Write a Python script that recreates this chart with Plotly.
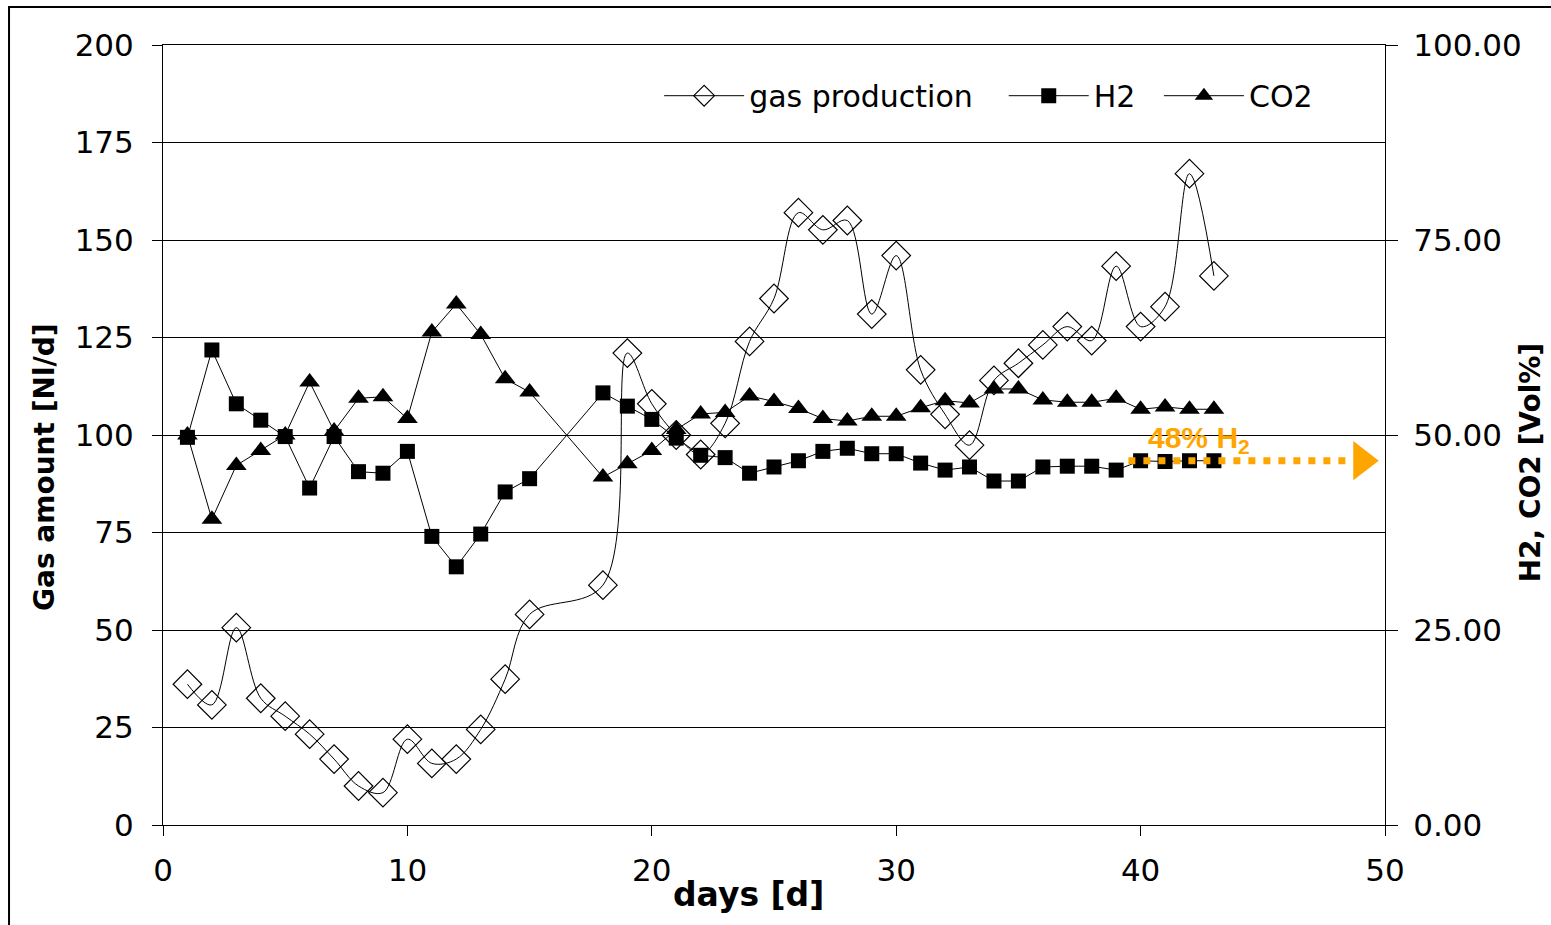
import plotly.graph_objects as go

# ---- data ----
days_gas = [1, 2, 3, 4, 5, 6, 7, 8, 9, 10, 11, 12, 13, 14, 15,
            18, 19, 20, 21, 22, 23, 24, 25, 26, 27, 28, 29, 30, 31, 32, 33,
            34, 35, 36, 37, 38, 39, 40, 41, 42, 43]
gas_production = [36.1, 30.8, 50.6, 32.5, 27.9, 23.3, 16.9, 10.0, 8.3, 22.0,
                  15.8, 16.9, 24.5, 37.4, 54.0,
                  61.5, 121.0, 108.0, 100.0, 95.0, 103.0, 124.0, 135.0, 157.0,
                  152.6, 155.0, 131.0, 146.0, 116.7, 105.3, 97.4, 114.0, 118.4,
                  123.1, 127.8, 124.2, 143.3, 127.8, 132.9, 167.0, 140.8]
h2_vol = [49.7, 60.9, 54.0, 51.9, 49.8, 43.2, 49.8, 45.3, 45.1, 47.9,
          37.0, 33.1, 37.3, 42.7, 44.4,
          55.4, 53.7, 52.0, 49.6, 47.4, 47.1, 45.1, 45.9, 46.7, 47.9, 48.3,
          47.6, 47.6, 46.4, 45.5, 45.9, 44.1, 44.1, 45.9, 46.0, 46.0, 45.5,
          46.7, 46.6, 46.7, 46.7]
co2_vol = [50.0, 39.2, 46.1, 48.0, 50.0, 56.8, 50.5, 54.7, 54.9, 52.1,
           63.2, 66.8, 62.9, 57.2, 55.5,
           44.6, 46.3, 48.0, 50.7, 52.7, 52.9, 55.0, 54.3, 53.4, 52.1, 51.8,
           52.4, 52.4, 53.5, 54.4, 54.1, 55.9, 55.9, 54.5, 54.2, 54.2, 54.7,
           53.3, 53.6, 53.3, 53.3]

# reference-level marker (orange dotted arrow)
arrow_days = [39.5, 48.7]
arrow_level = [46.7, 46.7]
arrow_head_day = [49.05]
arrow_head_level = [46.7]
arrow_label = "48% H<sub>2</sub>"
arrow_label_day = 42.4
arrow_label_level = 49.4

x_ticks = [0, 10, 20, 30, 40, 50]
left_ticks = [0, 25, 50, 75, 100, 125, 150, 175, 200]
right_ticks = [0, 25, 50, 75, 100]

TICK_FONT = dict(family="DejaVu Sans", size=31, color="black")
LEG_FONT = dict(family="DejaVu Sans", size=30, color="black")
TITLE_FONT = dict(family="DejaVu Sans", size=28, color="black", weight="bold")
ORANGE = "#FFA500"

fig = go.Figure()

fig.add_trace(go.Scatter(
    x=days_gas, y=gas_production, name="gas production", yaxis="y",
    legend="legend",
    mode="lines+markers",
    line=dict(color="black", width=1, shape="spline", smoothing=1.0),
    marker=dict(symbol="diamond-open", size=22, color="black",
                line=dict(color="black", width=1.2)),
))
fig.add_trace(go.Scatter(
    x=days_gas, y=h2_vol, name="H2", yaxis="y2", legend="legend2",
    mode="lines+markers",
    line=dict(color="black", width=1),
    marker=dict(symbol="square", size=15, color="black"),
))
fig.add_trace(go.Scatter(
    x=days_gas, y=co2_vol, name="CO2", yaxis="y2", legend="legend3",
    mode="lines+markers",
    line=dict(color="black", width=1),
    marker=dict(symbol="triangle-up", size=18, color="black"),
))
fig.add_trace(go.Scatter(
    x=arrow_days, y=arrow_level, yaxis="y2", mode="lines", showlegend=False,
    line=dict(color=ORANGE, width=7, dash="7px,8px"),
    hoverinfo="skip",
))
fig.add_trace(go.Scatter(
    x=arrow_head_day, y=arrow_head_level, yaxis="y2", mode="markers",
    showlegend=False,
    marker=dict(symbol="triangle-right", size=34, color=ORANGE),
    hoverinfo="skip",
))

fig.add_annotation(
    x=arrow_label_day, y=arrow_label_level, xref="x", yref="y2",
    text=arrow_label, showarrow=False,
    font=dict(family="Liberation Sans", size=30, color=ORANGE, weight="bold"),
)
# axis titles
fig.add_annotation(
    x=1.1187, y=0.465, xref="paper", yref="paper", xanchor="center",
    yanchor="middle", text="H2, CO2 [Vol%]", textangle=-90, showarrow=False,
    font=TITLE_FONT,
)
fig.add_annotation(
    x=-0.0966, y=0.459, xref="paper", yref="paper", xanchor="center",
    yanchor="middle", text="Gas amount [Nl/d]", textangle=-90,
    showarrow=False, font=TITLE_FONT,
)
fig.add_annotation(
    x=0.479, y=-0.0897, xref="paper", yref="paper", xanchor="center",
    yanchor="middle", text="days [d]", showarrow=False,
    font=dict(family="DejaVu Sans", size=33, color="black", weight="bold"),
)

# outer frame
fig.add_shape(type="rect", xref="paper", yref="paper",
              x0=-0.126, x1=1.3, y0=-0.3, y1=1.0487,
              line=dict(color="black", width=2), layer="below")

leg_common = dict(orientation="h", y=0.935, xanchor="left", yanchor="middle",
                  bgcolor="rgba(0,0,0,0)", font=LEG_FONT, itemwidth=80)

fig.update_layout(
    width=1551, height=925,
    margin=dict(l=163, r=166, t=45, b=100),
    paper_bgcolor="white", plot_bgcolor="white",
    showlegend=True,
    legend=dict(x=0.406, **leg_common),
    legend2=dict(x=0.688, **leg_common),
    legend3=dict(x=0.815, **leg_common),
    xaxis=dict(range=[0, 50], tickvals=x_ticks, showgrid=False,
               zeroline=False, showline=True, linecolor="black", linewidth=1,
               mirror=True,
               ticks="outside", ticklen=10, tickcolor="black",
               tickfont=TICK_FONT, ticklabelstandoff=8),
    yaxis=dict(range=[0, 200], tickvals=left_ticks, showgrid=True,
               gridcolor="black", gridwidth=1, zeroline=False,
               showline=True, linecolor="black", linewidth=1,
               ticks="outside", ticklen=10, tickcolor="black",
               tickfont=TICK_FONT, ticklabelstandoff=12),
    yaxis2=dict(range=[0, 100], tickvals=right_ticks, tickformat=".2f",
                overlaying="y", side="right", showgrid=False, zeroline=False,
                showline=True, linecolor="black", linewidth=1,
                ticks="outside", ticklen=12, tickcolor="black",
                tickfont=TICK_FONT, ticklabelstandoff=9),
)

fig.write_html(
    "out.html",
    config={"displayModeBar": False},
    post_script="document.body.style.margin='0';"
                "document.body.style.overflow='hidden';",
)
